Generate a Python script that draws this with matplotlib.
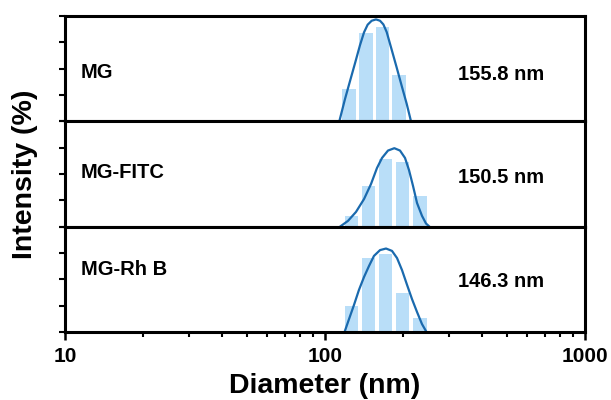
import numpy as np
import matplotlib
matplotlib.use("Agg")
import matplotlib.pyplot as plt

plt.rcParams["font.family"] = ["Liberation Sans", "DejaVu Sans"]
plt.rcParams["font.weight"] = "bold"

samples = ["MG", "MG-FITC", "MG-Rh B"]
sizes = ["155.8 nm", "150.5 nm", "146.3 nm"]

# DLS intensity histograms (diameter bin centres in nm, intensity in %)
bins_mg = [123.7, 143.8, 166.4, 192.6]
hist_mg = [12.3, 33.5, 35.8, 17.6]
bins_fitc = [126.5, 147.0, 170.9, 198.7, 232.0]
hist_fitc = [4.2, 15.6, 25.7, 24.7, 11.8]
bins_rhb = [126.5, 147.0, 170.9, 198.7, 232.0]
hist_rhb = [9.8, 28.0, 29.6, 14.8, 5.2]

# fitted distribution curves
fit_d_mg = [113.5, 119.4, 124.8, 130.4, 136.3, 141.3, 145.9, 151.2, 157.1,
            162.8, 167.7, 172.7, 180.5, 188.7, 197.2, 206.1, 214.2]
fit_i_mg = [0, 8.5, 15.3, 22.0, 28.9, 33.8, 36.7, 38.2, 38.7,
            38.2, 36.8, 33.9, 27.2, 20.4, 13.5, 6.7, 0]
fit_d_fitc = [114.2, 122.6, 131.6, 141.3, 150.3, 158.5, 165.7, 174.7, 184.8,
              194.3, 203.1, 210.4, 218.0, 225.9, 236.1, 244.6, 252.3]
fit_i_fitc = [0, 2.2, 5.6, 10.5, 16.2, 22.3, 26.1, 28.9, 29.8,
              28.9, 26.1, 21.5, 15.5, 9.0, 4.1, 1.2, 0]
fit_d_rhb = [118.9, 123.7, 129.3, 135.1, 141.3, 147.7, 154.3, 162.8, 171.7,
             181.0, 189.2, 197.8, 206.8, 216.1, 225.9, 236.1, 245.7]
fit_i_rhb = [0, 4.9, 10.3, 16.0, 20.9, 25.1, 28.9, 31.1, 31.7,
             30.8, 28.1, 23.5, 17.9, 12.5, 7.6, 3.0, 0]

bins = [bins_mg, bins_fitc, bins_rhb]
hists = [hist_mg, hist_fitc, hist_rhb]
fits = [(fit_d_mg, fit_i_mg), (fit_d_fitc, fit_i_fitc), (fit_d_rhb, fit_i_rhb)]
name_y = [0.46, 0.51, 0.59]
size_y = [0.44, 0.47, 0.48]

bar_color = "#b9def8"
line_color = "#1a6aae"
half = 0.026  # half bar width in decades

fig = plt.figure(figsize=(6.11, 4.0), dpi=100)
left, right, top, bottom = 65 / 611, 585 / 611, 1 - 16 / 400, 1 - 332 / 400
h = (top - bottom) / 3
axes = []
for k in range(3):
    ax = fig.add_axes([left, top - (k + 1) * h, right - left, h])
    ax.set_xscale("log")
    for c, v in zip(bins[k], hists[k]):
        lo, hi = c * 10 ** (-half), c * 10 ** half
        ax.fill_between([lo, hi], 0, v, color=bar_color, linewidth=0, zorder=1)
    ax.plot(fits[k][0], fits[k][1], color=line_color, lw=1.6, zorder=2)
    ax.set_xlim(10, 1000)
    ax.set_ylim(0, 40)
    ax.set_yticks([0, 10, 20, 30, 40])
    ax.tick_params(axis="y", direction="out", length=4, width=1.5, labelleft=False)
    ax.tick_params(axis="x", which="major", direction="out", length=6, width=1.8)
    ax.tick_params(axis="x", which="minor", direction="out", length=3.5, width=1.5)
    for s in ax.spines.values():
        s.set_linewidth(2.2)
    ax.text(0.03, name_y[k], samples[k], transform=ax.transAxes, fontsize=14.5,
            fontweight="bold", ha="left", va="center")
    ax.text(0.755, size_y[k], sizes[k], transform=ax.transAxes, fontsize=14.5,
            fontweight="bold", ha="left", va="center")
    if k < 2:
        ax.tick_params(axis="x", which="both", labelbottom=False)
    axes.append(ax)

axb = axes[-1]
axb.set_xticks([10, 100, 1000])
axb.set_xticklabels(["10", "100", "1000"])
axb.tick_params(axis="x", labelsize=15, pad=5)
for t in axb.get_xticklabels():
    t.set_fontweight("bold")
axb.set_xlabel("Diameter (nm)", fontsize=20.5, fontweight="bold", labelpad=5)
fig.text(25 / 611, 1 - 174 / 400, "Intensity (%)", rotation=90, fontsize=20.5,
         fontweight="bold", ha="center", va="center")

fig.savefig("out.png", dpi=100)
